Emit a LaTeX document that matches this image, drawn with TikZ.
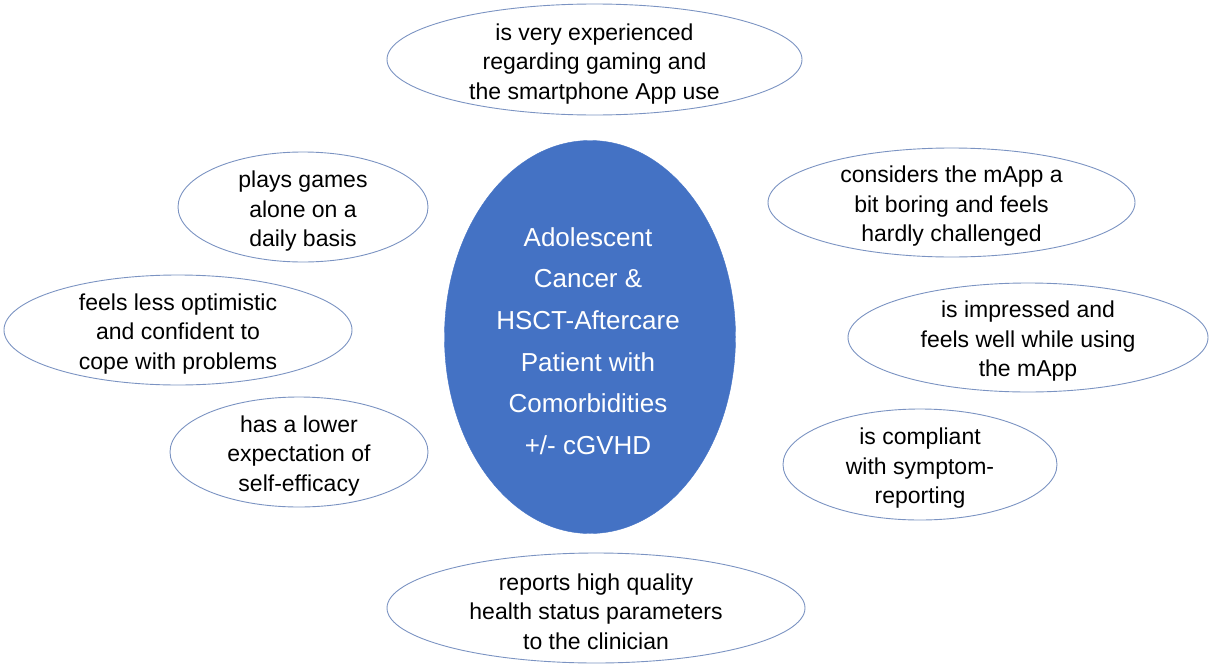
\documentclass[tikz,border=0pt]{standalone}
\usepackage{fontspec}
\setmainfont{Liberation Sans}
\usetikzlibrary{shapes.geometric}
\definecolor{rim}{HTML}{7B93C2}
\definecolor{core}{HTML}{4472C4}
\tikzset{
  bubble/.style={ellipse, draw=rim, line width=0.9pt, inner sep=0pt},
  btext/.style={inner sep=0pt, align=center, font=\fontsize{23}{29.5}\selectfont, text=black},
  centre/.style={ellipse, fill=core, draw=core, inner sep=0pt},
  ctext/.style={inner sep=0pt, align=center, font=\fontsize{26}{41.6}\selectfont, text=white}
}
\begin{document}
\begin{tikzpicture}[x=1pt,y=-1pt]
\useasboundingbox (0,0) rectangle (1210,664);
\node[centre, minimum width=291pt, minimum height=393pt] (c) at (590,337) {};
\node[ctext] (ct) at ([xshift=-2pt,yshift=-4pt]c.center) {Adolescent\\Cancer \&\\HSCT-Aftercare\\Patient with\\Comorbidities\\+/- cGVHD};
\node[bubble, minimum width=415pt, minimum height=111pt] (top) at (594.5,59.5) {};
\node[btext] (topt) at ([yshift=-4.5pt]top.center) {is very experienced\\regarding gaming and\\the smartphone App use};
\node[bubble, minimum width=250pt, minimum height=110pt] (plays) at (303,207) {};
\node[btext] (playst) at ([yshift=-4.5pt]plays.center) {plays games\\alone on a\\daily basis};
\node[bubble, minimum width=348pt, minimum height=110pt] (feels) at (178,330) {};
\node[btext] (feelst) at ([yshift=-4pt]feels.center) {feels less optimistic\\and confident to\\cope with problems};
\node[bubble, minimum width=258pt, minimum height=110pt] (lower) at (299,452) {};
\node[btext] (lowert) at ([yshift=-4pt]lower.center) {has a lower\\expectation of\\self-efficacy};
\node[bubble, minimum width=367pt, minimum height=109pt] (boring) at (951.5,202.5) {};
\node[btext] (boringt) at ([yshift=-4pt]boring.center) {considers the mApp a\\bit boring and feels\\hardly challenged};
\node[bubble, minimum width=360pt, minimum height=109pt] (impr) at (1028,337.5) {};
\node[btext] (imprt) at ([yshift=-4pt]impr.center) {is impressed and\\feels well while using\\the mApp};
\node[bubble, minimum width=274pt, minimum height=111pt] (compl) at (920,464.5) {};
\node[btext] (complt) at ([yshift=-4pt]compl.center) {is compliant\\with symptom-\\reporting};
\node[bubble, minimum width=418pt, minimum height=110pt] (bottom) at (596,608) {};
\node[btext] (bottomt) at ([yshift=-3.5pt]bottom.center) {reports high quality\\health status parameters\\to the clinician};
\end{tikzpicture}
\end{document}
